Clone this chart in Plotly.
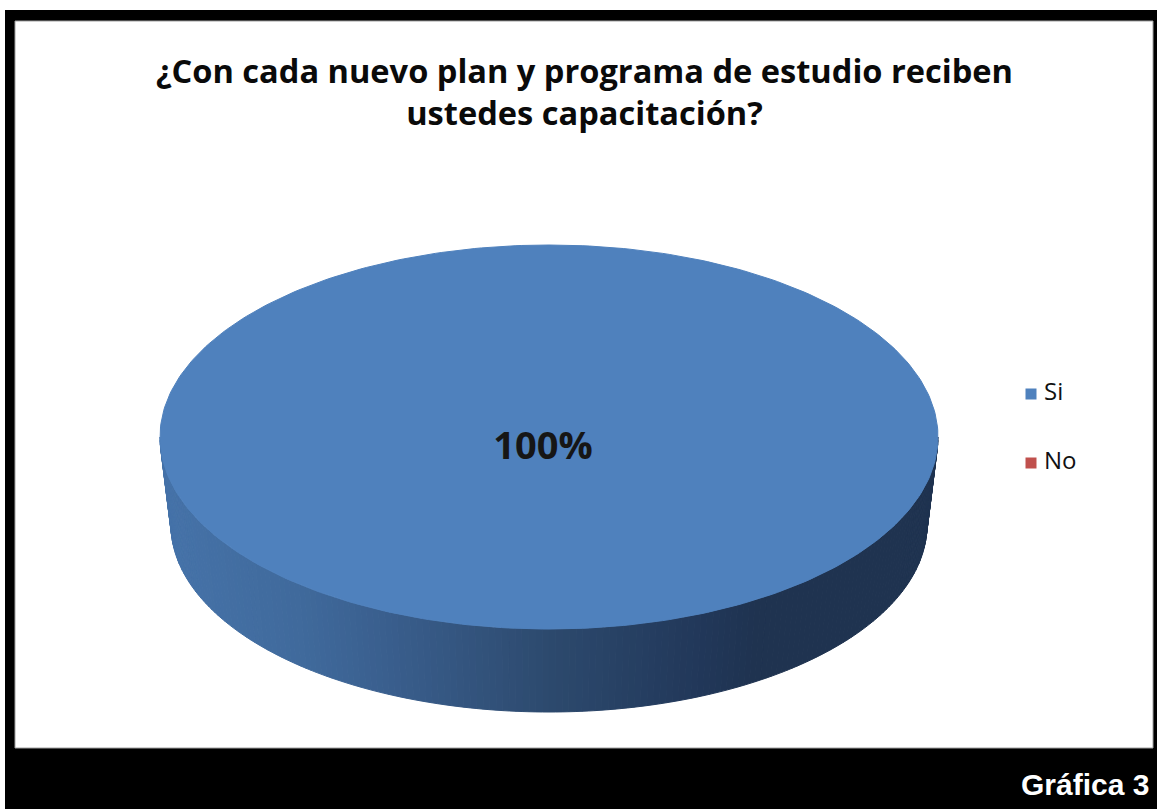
import numpy as np
import plotly.graph_objects as go

# Survey answers
categories = ["Si", "No"]
values = [100, 0]
slice_colors = ["#4f81bd", "#c0504d"]
title_text = "¿Con cada nuevo plan y programa de estudio reciben<br>ustedes capacitación?"
footer_text = "Gráfica 3"

W, H = 1157, 809

# 3D pie geometry (pixel space: x right, y down)
cx, cy, a, b = 549, 437, 389, 192          # top face
bx, by, a2, b2 = 549, 525, 378, 187        # bottom rim

# side shading stops (x position -> rgb)
shade_x = [160, 300, 400, 550, 700, 760, 945]
shade_rgb = [(70, 115, 169), (64, 106, 156), (57, 93, 139), (45, 74, 110),
             (34, 56, 90), (31, 51, 80), (31, 51, 80)]


def shade(x):
    r = np.interp(x, shade_x, [c[0] for c in shade_rgb])
    g = np.interp(x, shade_x, [c[1] for c in shade_rgb])
    bb = np.interp(x, shade_x, [c[2] for c in shade_rgb])
    return f"rgb({int(r)},{int(g)},{int(bb)})"


def top_pt(phi):
    return cx + a * np.sin(phi), cy - b * np.cos(phi)


def bot_pt(phi):
    return bx + a2 * np.sin(phi), by - b2 * np.cos(phi)


fig = go.Figure()

total = float(sum(values))
start = 0.0
slices = []
for cat, v, col in zip(categories, values, slice_colors):
    span = 2 * np.pi * v / total
    slices.append((cat, start, start + span, col))
    start += span

# visible side wall (front half: from 3 o'clock through 6 to 9 o'clock)
for cat, s, e, col in slices:
    lo, hi = max(s, np.pi / 2), min(e, 3 * np.pi / 2)
    if hi <= lo:
        continue
    n = max(2, int(np.degrees(hi - lo)))
    phis = np.linspace(lo, hi, n + 1)
    for p0, p1 in zip(phis[:-1], phis[1:]):
        t0, t1 = top_pt(p0), top_pt(p1)
        b0, b1 = bot_pt(p0), bot_pt(p1)
        xs = [t0[0], t1[0], b1[0], b0[0], t0[0]]
        ys = [t0[1], t1[1], b1[1], b0[1], t0[1]]
        c = shade((t0[0] + t1[0]) / 2)
        fig.add_trace(go.Scatter(x=xs, y=ys, mode="lines", fill="toself",
                                 fillcolor=c, line=dict(color=c, width=1),
                                 hoverinfo="skip", showlegend=False))

# top faces of the slices
for cat, s, e, col in slices:
    if e - s <= 0:
        continue
    phis = np.linspace(s, e, 361)
    xs, ys = top_pt(phis)
    if e - s < 2 * np.pi - 1e-9:
        xs = np.concatenate([[cx], xs, [cx]])
        ys = np.concatenate([[cy], ys, [cy]])
    fig.add_trace(go.Scatter(x=xs, y=ys, mode="lines", fill="toself",
                             fillcolor=col, line=dict(color=col, width=1),
                             hoverinfo="skip", showlegend=False))

# percentage labels
for (cat, s, e, col), v in zip(slices, values):
    if v <= 0:
        continue
    pct = f"<b>{round(100 * v / total)}%</b>"
    if e - s >= 2 * np.pi - 1e-9:
        lx, ly = 543, 449
    else:
        m = (s + e) / 2
        lx, ly = cx + 0.6 * a * np.sin(m), cy - 0.6 * b * np.cos(m)
    fig.add_trace(go.Scatter(x=[lx], y=[ly], mode="text", text=[pct],
                             textfont=dict(family="Open Sans", size=38, color="#161616"),
                             hoverinfo="skip", showlegend=False))

# legend entries
leg_y = [394, 463]
for cat, col, yy in zip(categories, slice_colors, leg_y):
    fig.add_trace(go.Scatter(x=[1031], y=[yy], mode="markers",
                             marker=dict(symbol="square", size=11, color=col),
                             hoverinfo="skip", showlegend=False))
    fig.add_trace(go.Scatter(x=[1044], y=[yy], mode="text", text=[cat],
                             textposition="middle right",
                             textfont=dict(family="Open Sans", size=24, color="#111111"),
                             hoverinfo="skip", showlegend=False))

# frame: black border with a thick bottom band
shapes = [
    dict(type="rect", xref="x", yref="y", x0=5, y0=10, x1=W + 5, y1=H + 5,
         fillcolor="black", line=dict(width=0), layer="below"),
    dict(type="rect", xref="x", yref="y", x0=15, y0=21, x1=1153, y1=748,
         fillcolor="white", line=dict(color="#a0a0a0", width=1), layer="below"),
]

annotations = [
    dict(x=584, y=91, xref="x", yref="y", text="<b>" + title_text.replace("<br>", "</b><br><b>") + "</b>",
         showarrow=False, font=dict(family="Open Sans", size=32.6, color="#0a0a0a"),
         align="center", xanchor="center", yanchor="middle"),
    dict(x=1151, y=784, xref="x", yref="y", text="<b>" + footer_text + "</b>",
         showarrow=False, font=dict(family="Liberation Sans", size=30, color="white"),
         xanchor="right", yanchor="middle"),
]

fig.update_layout(
    width=W, height=H, autosize=False,
    margin=dict(l=0, r=0, t=0, b=0, pad=0),
    paper_bgcolor="white", plot_bgcolor="rgba(0,0,0,0)",
    xaxis=dict(range=[0, W], visible=False, fixedrange=True),
    yaxis=dict(range=[H, 0], visible=False, fixedrange=True),
    shapes=shapes, annotations=annotations, showlegend=False,
)

fig.write_html("out.html")
